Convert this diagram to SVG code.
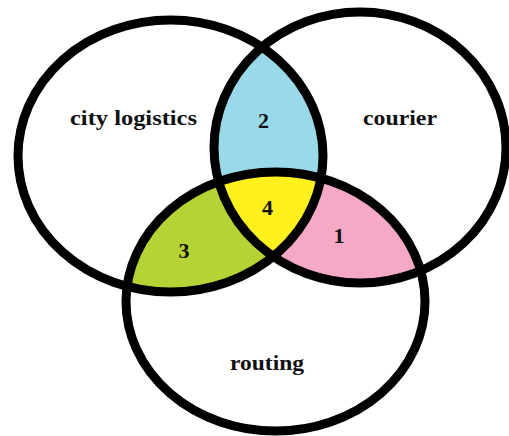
<svg xmlns="http://www.w3.org/2000/svg" xmlns:xlink="http://www.w3.org/1999/xlink" width="509" height="436" viewBox="0 0 509 436">
<style>
.ring{fill:none;stroke:#000;stroke-width:9}
.lbl{font-family:"Liberation Serif","Times New Roman",serif;font-weight:bold;font-size:22px;fill:#111}
.num{font-family:"Liberation Serif","Times New Roman",serif;font-weight:bold;font-size:22px;fill:#111;text-anchor:middle}
</style>
<defs>
<ellipse id="eA" cx="170.5" cy="156" rx="152.5" ry="136"/>
<ellipse id="eB" cx="360" cy="147.5" rx="146" ry="135.5"/>
<ellipse id="eC" cx="275.5" cy="301.5" rx="149.5" ry="129.5"/>
<clipPath id="cA"><use href="#eA"/></clipPath>
<clipPath id="cB"><use href="#eB"/></clipPath>
<clipPath id="cC"><use href="#eC"/></clipPath>
</defs>
<rect width="509" height="436" fill="#fff"/>
<g id="regions">
<g id="region2" clip-path="url(#cB)"><use href="#eA" fill="#99d9ea"/></g>
<g id="region3" clip-path="url(#cC)"><use href="#eA" fill="#b5d334"/></g>
<g id="region1" clip-path="url(#cC)"><use href="#eB" fill="#f5a9c6"/></g>
<g id="region4" clip-path="url(#cC)"><g clip-path="url(#cB)"><use href="#eA" fill="#fff01e"/></g></g>
</g>
<g id="city-logistics"><use href="#eA" class="ring"/><text class="lbl" x="70" y="125" textLength="127" lengthAdjust="spacingAndGlyphs">city logistics</text></g>
<g id="courier"><use href="#eB" class="ring"/><text class="lbl" x="363" y="125" textLength="74" lengthAdjust="spacingAndGlyphs">courier</text></g>
<g id="routing"><use href="#eC" class="ring"/><text class="lbl" x="230" y="370" textLength="74" lengthAdjust="spacingAndGlyphs">routing</text></g>
<g id="labels">
<text class="num" x="263.5" y="128">2</text>
<text class="num" x="267.5" y="215">4</text>
<text class="num" x="184" y="258">3</text>
<text class="num" x="339" y="243">1</text>
</g>
</svg>
